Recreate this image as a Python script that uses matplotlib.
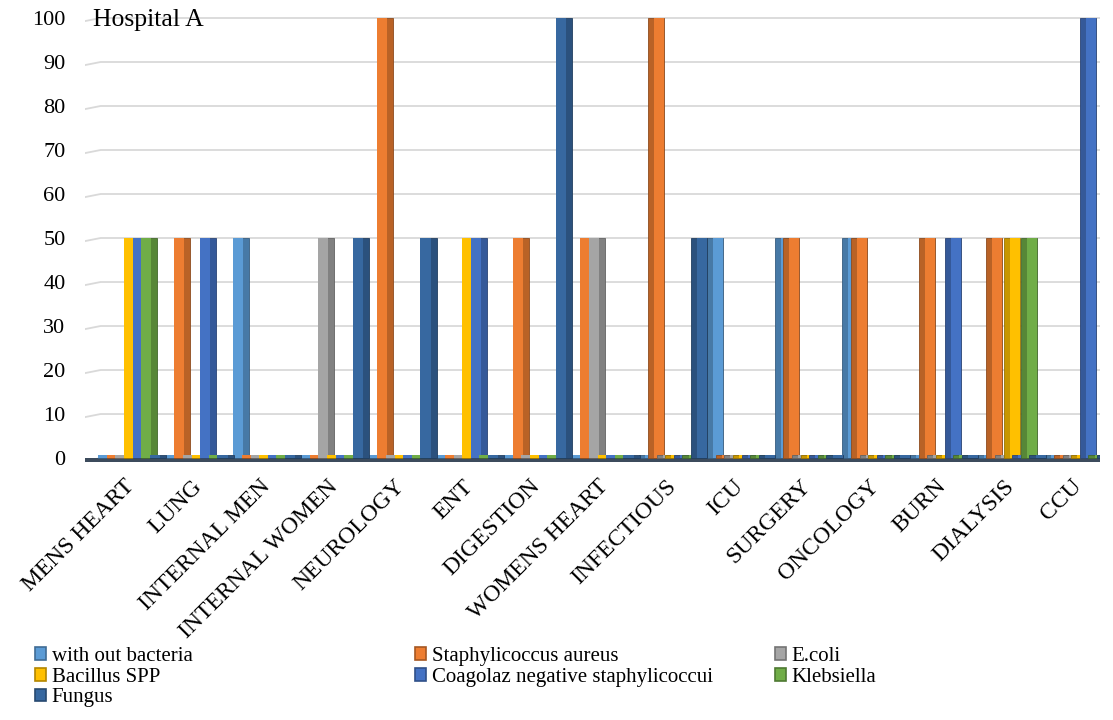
import numpy as np
import matplotlib
matplotlib.use("Agg")
import matplotlib.pyplot as plt
from matplotlib.patches import Patch
from matplotlib.transforms import ScaledTranslation
from matplotlib.colors import to_rgb

plt.rcParams['font.family'] = ['Liberation Serif', 'DejaVu Serif']

# categories (wards) and series (organisms)
wards = ['MENS HEART', 'LUNG', 'INTERNAL MEN', 'INTERNAL WOMEN', 'NEUROLOGY',
         'ENT', 'DIGESTION', 'WOMENS HEART', 'INFECTIOUS', 'ICU', 'SURGERY',
         'ONCOLOGY', 'BURN', 'DIALYSIS', 'CCU']
series_names = ['with out bacteria', 'Staphylicoccus aureus', 'E.coli', 'Bacillus SPP',
                'Coagolaz negative staphylicoccui', 'Klebsiella', 'Fungus']

with_out_bacteria = [0, 0, 50, 0, 0, 0, 0, 0, 0, 50, 50, 50, 0, 0, 0]
staph_aureus      = [0, 50, 0, 0, 100, 0, 50, 50, 100, 0, 50, 50, 50, 50, 0]
e_coli            = [0, 0, 0, 50, 0, 0, 0, 50, 0, 0, 0, 0, 0, 0, 0]
bacillus          = [50, 0, 0, 0, 0, 50, 0, 0, 0, 0, 0, 0, 0, 50, 0]
coagolaz          = [50, 50, 0, 0, 0, 50, 0, 0, 0, 0, 0, 0, 50, 0, 100]
klebsiella        = [50, 0, 0, 0, 0, 0, 0, 0, 0, 0, 0, 0, 0, 50, 0]
fungus            = [0, 0, 0, 50, 50, 0, 100, 0, 50, 0, 0, 0, 0, 0, 0]

values = [with_out_bacteria, staph_aureus, e_coli, bacillus, coagolaz, klebsiella, fungus]
colors = ['#5B9BD5', '#ED7D31', '#A5A5A5', '#FFC000', '#4472C4', '#70AD47', '#3768A0']
yticks = list(range(0, 101, 10))


def shade(c, f):
    r, g, b = to_rgb(c)
    return (r * f, g * f, b * f)


fig = plt.figure(figsize=(11.13, 7.2), dpi=100)
ax = fig.add_axes([85 / 1113, 1 - 463.3 / 720, 1015 / 1113, 447.5 / 720])
ax.set_xlim(-0.5, len(wards) - 0.5)
ax.set_ylim(-1.2, 100.5)

# back wall gridlines with a little slant at the left end
for v in yticks:
    ax.plot([-0.5, -0.27, len(wards) - 0.5], [v - 0.7, v, v], color='#D9D9D9', lw=1.3, zorder=0)

# floor
ax.bar(np.arange(len(wards)), 1.0, width=1.0, bottom=-1.0, color='#3C4B5C', zorder=1)

x = np.arange(len(wards))
pitch = 0.128
width = 0.24
front = 0.15
for j, (vals, c) in enumerate(zip(values, colors)):
    left = x - 0.31 + pitch * j
    vals = np.array(vals, dtype=float)
    right_side = x <= 7
    # side face (darker) then front face
    ax.bar(left, np.maximum(vals, 0.7), width=width, align='edge',
           color=shade(c, 0.78), edgecolor=shade(c, 0.6), lw=0.6, zorder=2 + j)
    front_left = np.where(right_side, left, left + width - front)
    ax.bar(front_left, np.maximum(vals, 0.7), width=front, align='edge',
           color=c, edgecolor='none', zorder=2 + j)

for s in ax.spines.values():
    s.set_visible(False)

ax.set_yticks(yticks)
ax.set_yticklabels([str(v) for v in yticks], fontsize=16)
ax.tick_params(axis='y', length=0, pad=14)

ax.set_xticks(x)
ax.set_xticklabels(wards, fontsize=17, rotation=45, ha='right', va='top',
                   rotation_mode='anchor')
ax.tick_params(axis='x', length=0, pad=9)
offset = ScaledTranslation(5 / 100, 0, fig.dpi_scale_trans)
for lab in ax.get_xticklabels():
    lab.set_transform(lab.get_transform() + offset)

fig.text(93 / 1113, 1 - 20 / 720, 'Hospital A', fontsize=18.5, ha='left', va='center')

# legend in three columns, row-major like the original
handles = [Patch(facecolor=c, edgecolor=shade(c, 0.7), lw=1.2) for c in colors]
columns = [([0, 3, 6], 35), ([1, 4], 415), ([2, 5], 775)]
for idx, xpx in columns:
    leg = fig.legend([handles[i] for i in idx], [series_names[i] for i in idx],
                     loc='upper left', bbox_to_anchor=(xpx / 1113, 1 - 647 / 720),
                     frameon=False, fontsize=15, handlelength=0.55, handleheight=0.55,
                     handletextpad=0.25, labelspacing=0.08, borderpad=0, borderaxespad=0)

fig.savefig('out.png', dpi=100)
